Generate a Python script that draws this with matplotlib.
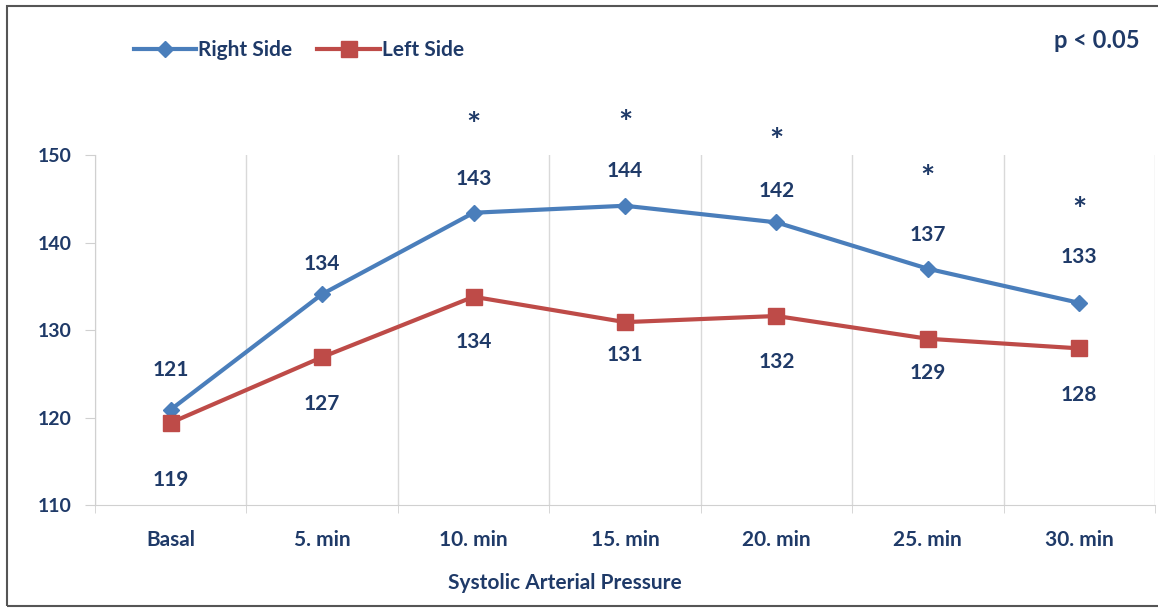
import matplotlib.pyplot as plt
import numpy as np
from matplotlib.patches import Rectangle

# values
categories = ['Basal', '5. min', '10. min', '15. min', '20. min', '25. min', '30. min']
right_side = [120.9, 134.1, 143.4, 144.2, 142.3, 137.0, 133.1]
left_side = [119.4, 126.9, 133.8, 130.9, 131.6, 129.0, 127.9]
significant = [False, False, True, True, True, True, True]

# label offsets in pixels (above right-side points, below left-side points)
right_off = [40, 30, 34, 35, 31, 34, 46]
left_off = [57, 47, 45, 33, 46, 34, 47]
star_off = [0, 0, 86, 81, 80, 89, 91]

blue = '#4A7EBB'
red = '#BE4B48'
navy = '#1F3A68'

plt.rcParams['font.family'] = ['Lato', 'DejaVu Sans']
plt.rcParams['font.weight'] = 'bold'

fig = plt.figure(figsize=(11.58, 6.10), dpi=100)
ax = fig.add_axes([95 / 1158, 105 / 610, 1060 / 1158, 350 / 610])

x = np.arange(len(categories))
ax.plot(x, right_side, color=blue, lw=3, marker='D', markersize=8,
        label='Right Side', zorder=3)
ax.plot(x, left_side, color=red, lw=3, marker='s', markersize=11,
        label='Left Side', zorder=3)

px = 72 / 100  # pixels -> points
for i in x:
    ax.annotate(f'{round(right_side[i])}', (i, right_side[i]),
                xytext=(0, right_off[i] * px), textcoords='offset points',
                ha='center', va='center', fontsize=15, color=navy,
                fontweight='bold', annotation_clip=False)
    ax.annotate(f'{round(left_side[i])}', (i, left_side[i]),
                xytext=(0, -left_off[i] * px), textcoords='offset points',
                ha='center', va='center', fontsize=15, color=navy,
                fontweight='bold', annotation_clip=False)
    if significant[i]:
        ax.annotate('*', (i, right_side[i]),
                    xytext=(0, star_off[i] * px), textcoords='offset points',
                    ha='center', va='center', fontsize=24, color=navy,
                    fontweight='bold', annotation_clip=False)

ax.set_xlim(-0.5, len(categories) - 0.5)
ax.set_ylim(110, 150)
ax.set_yticks([110, 120, 130, 140, 150])
ax.set_xticks(x)
ax.set_xticklabels(categories)
ax.set_xticks(np.arange(-0.5, len(categories)), minor=True)
ax.grid(axis='x', which='minor', color='#D9D9D9', lw=1)
ax.tick_params(axis='x', which='major', length=0, pad=18, labelsize=15,
               labelcolor=navy)
ax.tick_params(axis='x', which='minor', length=6, color='#D0D0D0')
ax.tick_params(axis='y', length=7, color='#D0D0D0', pad=10, labelsize=14,
               labelcolor=navy)
for lbl in ax.get_xticklabels() + ax.get_yticklabels():
    lbl.set_fontweight('bold')

for side in ['top', 'right']:
    ax.spines[side].set_visible(False)
for side in ['left', 'bottom']:
    ax.spines[side].set_color('#D0D0D0')

fig.text(565 / 1158, 1 - 583 / 610, 'Systolic Arterial Pressure', ha='center',
         va='center', fontsize=15, color=navy, fontweight='bold')
fig.text(1140 / 1158, 1 - 40 / 610, 'p < 0.05', ha='right', va='center',
         fontsize=17, color=navy, fontweight='bold')

leg = fig.legend(loc='center left', bbox_to_anchor=(115 / 1158, 1 - 50 / 610),
                 ncol=2, frameon=False, handlelength=3.0, columnspacing=1.2,
                 handletextpad=0.1, prop={'size': 15, 'weight': 'bold'})
for t in leg.get_texts():
    t.set_color(navy)

fig.patches.append(Rectangle((7 / 1158, 4 / 610), 1160 / 1158, 600 / 610,
                             transform=fig.transFigure, fill=False,
                             edgecolor='#555555', lw=1.5))

fig.savefig('out.png', dpi=100)
